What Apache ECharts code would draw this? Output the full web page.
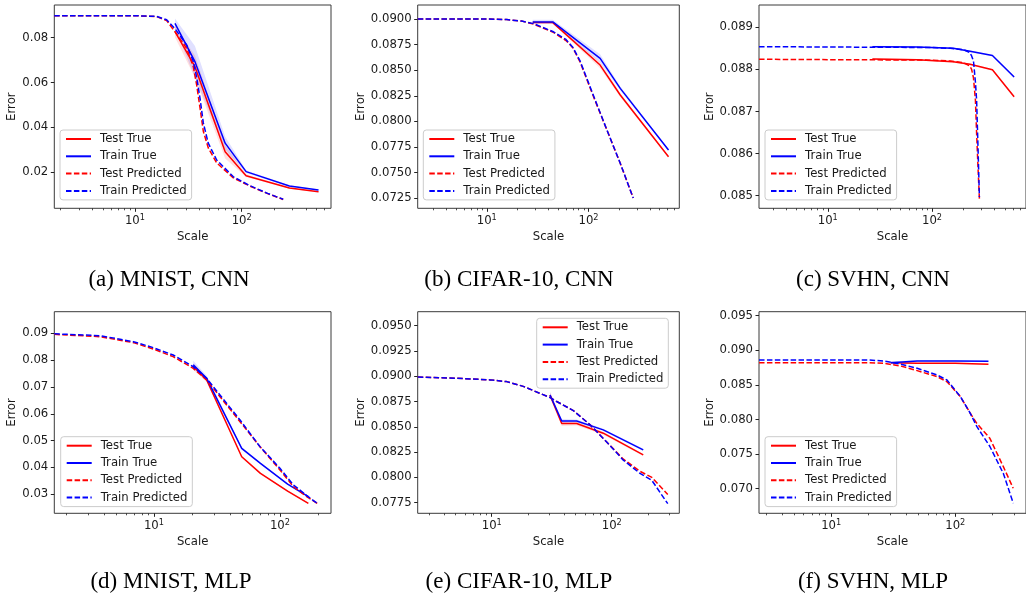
<!DOCTYPE html>
<html>
<head>
<meta charset="utf-8">
<script src="https://cdn.jsdelivr.net/npm/echarts@6/dist/echarts.min.js"></script>
<style>
  html, body { margin: 0; padding: 0; background: #fff; }
  #chart { width: 1026px; height: 602px; }
</style>
</head>
<body>
<div id="chart"></div>
<script>
// ---------- (a) MNIST, CNN ----------
const aPredScale  = [1.75, 10, 16, 19.8, 23.7, 30.5, 35.2, 37.8, 40.7, 43.7, 48.6, 58.3, 83.6, 120, 175, 245];
const aTestPred   = [0.0898, 0.0898, 0.0894, 0.0876, 0.0827, 0.0753, 0.0671, 0.0591, 0.0487, 0.0383, 0.0309, 0.0242, 0.0175, 0.0138, 0.0105, 0.0079];
const aTrainPred  = [0.0898, 0.0898, 0.0895, 0.0880, 0.0840, 0.0768, 0.0695, 0.0625, 0.0530, 0.0420, 0.0330, 0.0255, 0.0180, 0.0140, 0.0106, 0.0080];
const aTrueScale  = [23.7, 36.5, 70, 110, 280, 525];
const aTestTrue   = [0.0827, 0.0671, 0.0292, 0.0185, 0.0130, 0.0113];
const aTrainTrue  = [0.0864, 0.0693, 0.0330, 0.0203, 0.0139, 0.0121];
const aTestSpread = [0.0025, 0.0050, 0.0030, 0.0006, 0.0003, 0.0002];
const aTrainSpread= [0.0022, 0.0070, 0.0030, 0.0006, 0.0003, 0.0002];
const aYTicks     = [0.02, 0.04, 0.06, 0.08];

// ---------- (b) CIFAR-10, CNN ----------
const bPredScale  = [2.1, 10, 15.7, 22, 28.8, 45.2, 60, 70, 82.6, 112, 151, 205, 275];
const bTestPred   = [0.0900, 0.0900, 0.08995, 0.0898, 0.0895, 0.0887, 0.0879, 0.0872, 0.0858, 0.0824, 0.0792, 0.0759, 0.0725];
const bTrainPred  = [0.0900, 0.0900, 0.08995, 0.0898, 0.08955, 0.08875, 0.0880, 0.08725, 0.0859, 0.0825, 0.0792, 0.0759, 0.0725];
const bTrueScale  = [28.3, 44.6, 130, 205, 611];
const bTestTrue   = [0.08965, 0.08965, 0.0855, 0.08257, 0.07654];
const bTrainTrue  = [0.08972, 0.08972, 0.08616, 0.08322, 0.0772];
const bTestSpread = [0.0001, 0.0001, 0.0003, 0.0002, 0.0001];
const bTrainSpread= [0.0002, 0.0002, 0.0004, 0.0002, 0.0001];
const bYTicks     = [0.0725, 0.0750, 0.0775, 0.0800, 0.0825, 0.0850, 0.0875, 0.0900];

// ---------- (c) SVHN, CNN ----------
const cPredScale  = [2.19, 100, 150, 200, 230, 240, 250, 261, 268, 276, 285];
const cTestPred   = [0.08824, 0.08822, 0.0882, 0.08816, 0.08808, 0.08800, 0.0878, 0.08727, 0.08648, 0.0857, 0.08493];
const cTrainPred  = [0.08854, 0.08852, 0.0885, 0.08847, 0.0884, 0.08832, 0.0882, 0.0877, 0.08727, 0.0862, 0.08497];
const cTrueScale  = [26.8, 72, 160, 232, 380, 614];
const cTestTrue   = [0.08825, 0.08823, 0.08818, 0.08812, 0.08799, 0.08735];
const cTrainTrue  = [0.08854, 0.08853, 0.0885, 0.08843, 0.08833, 0.08782];
const cTestSpread = [0.00002, 0.00002, 0.00002, 0.00002, 0.00002, 0.00003];
const cTrainSpread= [0.00002, 0.00002, 0.00002, 0.00002, 0.00002, 0.00003];
const cYTicks     = [0.085, 0.086, 0.087, 0.088, 0.089];

// ---------- (d) MNIST, MLP ----------
const dPredScale  = [1.62, 3.73, 6.86, 9.88, 14.2, 20.5, 26.2, 33.4, 48.2, 69.4, 100, 128, 163, 201];
const dTestPred   = [0.0896, 0.08874, 0.08651, 0.08415, 0.08129, 0.07694, 0.07259, 0.06638, 0.05706, 0.04774, 0.03905, 0.03284, 0.02911, 0.02638];
const dTrainPred  = [0.0898, 0.08912, 0.08688, 0.08464, 0.08191, 0.07756, 0.07321, 0.0670, 0.05768, 0.04774, 0.03967, 0.03346, 0.02948, 0.02638];
const dTrueScale  = [20.5, 26.2, 49.7, 70, 115, 168];
const dTestTrue   = [0.0776, 0.0726, 0.0440, 0.0378, 0.0312, 0.0266];
const dTrainTrue  = [0.0783, 0.0732, 0.0471, 0.0415, 0.0338, 0.0291];
const dTestSpread = [0.0012, 0.0008, 0.0004, 0.0003, 0.0003, 0.0002];
const dTrainSpread= [0.0015, 0.0010, 0.0005, 0.0003, 0.0003, 0.0002];
const dYTicks     = [0.03, 0.04, 0.05, 0.06, 0.07, 0.08, 0.09];

// ---------- (e) CIFAR-10, MLP ----------
const ePredScale  = [2.42, 5.1, 9.7, 13.3, 18.3, 25.3, 30.6, 34.8, 47.9, 66, 90.8, 125, 172, 216, 293];
const eTestPred   = [0.08993, 0.0898, 0.08964, 0.08947, 0.0890, 0.0883, 0.0879, 0.0875, 0.0866, 0.0852, 0.0835, 0.0818, 0.0806, 0.0800, 0.0783];
const eTrainPred  = [0.08993, 0.0898, 0.08964, 0.08947, 0.0890, 0.0883, 0.0879, 0.0875, 0.0866, 0.0852, 0.0835, 0.0817, 0.0804, 0.0797, 0.0774];
const eTrueScale  = [30.6, 38.3, 51, 85, 183];
const eTestTrue   = [0.08815, 0.08533, 0.08533, 0.08437, 0.08222];
const eTrainTrue  = [0.08815, 0.08558, 0.08558, 0.0847, 0.08272];
const eTestSpread = [0.0003, 0.00025, 0.0002, 0.00015, 0.0001];
const eTrainSpread= [0.0003, 0.0002, 0.00015, 0.0001, 0.0001];
const eYTicks     = [0.0775, 0.0800, 0.0825, 0.0850, 0.0875, 0.0900, 0.0925, 0.0950];

// ---------- (f) SVHN, MLP ----------
const fPredScale  = [2.62, 20, 26.7, 36.3, 49.3, 71.3, 85.7, 110, 132, 149, 190, 244, 293];
const fTestPred   = [0.0882, 0.0882, 0.08812, 0.08773, 0.08706, 0.0862, 0.08546, 0.0833, 0.0809, 0.07945, 0.07728, 0.07318, 0.07006];
const fTrainPred  = [0.0886, 0.0886, 0.08845, 0.0880, 0.0874, 0.08643, 0.08571, 0.0833, 0.0809, 0.0790, 0.0761, 0.0722, 0.0679];
const fTrueScale  = [30.2, 49.3, 100, 185];
const fTestTrue   = [0.0882, 0.08812, 0.08812, 0.0880];
const fTrainTrue  = [0.0882, 0.08845, 0.08845, 0.0884];
const fTestSpread = [0.0002, 0.0001, 0.0001, 0.0001];
const fTrainSpread= [0.0002, 0.0001, 0.0001, 0.0001];
const fYTicks     = [0.070, 0.075, 0.080, 0.085, 0.090, 0.095];

// Shared
const SERIES_NAMES = ['Test True', 'Train True', 'Test Predicted', 'Train Predicted'];
const X_MAJOR = [10, 100];

const RED = '#ff0000';
const BLUE = '#0000ff';
const FONT = 'DejaVu Sans';
const INK = '#1a1a1a';
const FS = 11.7;

// Layout per subplot: grid box in px, axis ranges (x in log10 units), label decimals
const panels = [
  { cap: '(a) MNIST, CNN',    capX: 169, capY: 280, grid: [54.3, 5, 276.7, 203.3],  x: [0.244, 2.837], y: [0.00396, 0.09457], yTicks: aYTicks, dec: 2, nameGap: 33, legend: [60, 130],
    pred: [aPredScale, aTestPred, aTrainPred], truth: [aTrueScale, aTestTrue, aTrainTrue], spread: [aTestSpread, aTrainSpread] },
  { cap: '(b) CIFAR-10, CNN', capX: 519, capY: 280, grid: [417.7, 5, 261.6, 203.3], x: [0.3215, 2.892], y: [0.0715, 0.09137], yTicks: bYTicks, dec: 4, nameGap: 48, legend: [423.3, 130],
    pred: [bPredScale, bTestPred, bTrainPred], truth: [bTrueScale, bTestTrue, bTrainTrue], spread: [bTestSpread, bTrainSpread] },
  { cap: '(c) SVHN, CNN',     capX: 873, capY: 280, grid: [759, 5, 269, 203.3],     x: [0.34, 2.902], y: [0.0847, 0.08953], yTicks: cYTicks, dec: 3, nameGap: 40.3, legend: [765, 130],
    pred: [cPredScale, cTestPred, cTrainPred], truth: [cTrueScale, cTestTrue, cTrainTrue], spread: [cTestSpread, cTrainSpread] },
  { cap: '(d) MNIST, MLP',    capX: 171, capY: 582, grid: [54.3, 311.7, 276.7, 201.6],  x: [0.209, 2.405], y: [0.0229, 0.09805], yTicks: dYTicks, dec: 2, nameGap: 33, legend: [60.7, 436.7],
    pred: [dPredScale, dTestPred, dTrainPred], truth: [dTrueScale, dTestTrue, dTrainTrue], spread: [dTestSpread, dTrainSpread] },
  { cap: '(e) CIFAR-10, MLP', capX: 519, capY: 582, grid: [417.7, 311.7, 261.6, 201.6], x: [0.383, 2.563], y: [0.07645, 0.09638], yTicks: eYTicks, dec: 4, nameGap: 48, legend: [536.7, 318.3],
    pred: [ePredScale, eTestPred, eTrainPred], truth: [eTrueScale, eTestTrue, eTrainTrue], spread: [eTestSpread, eTrainSpread] },
  { cap: '(f) SVHN, MLP',     capX: 873, capY: 582, grid: [759, 311.7, 269, 201.6],     x: [0.418, 2.570], y: [0.06644, 0.09558], yTicks: fYTicks, dec: 3, nameGap: 40.3, legend: [765, 436.7],
    pred: [fPredScale, fTestPred, fTrainPred], truth: [fTrueScale, fTestTrue, fTrainTrue], spread: [fTestSpread, fTrainSpread] }
];

// Minor log ticks (2..9 per decade) inside [lo, hi], in log10 units
function minorTicks(lo, hi) {
  const out = [];
  for (let e = Math.floor(lo); e <= Math.ceil(hi); e++) {
    for (let m = 2; m <= 9; m++) {
      const v = e + Math.log10(m);
      if (v >= lo && v <= hi) out.push(v);
    }
  }
  return out;
}

function toPoints(xs, ys) {
  return xs.map((x, i) => [Math.log10(x), ys[i]]);
}

function lineSeries(pi, name, xs, ys, color, dashed, z) {
  return {
    type: 'line', name: name, xAxisIndex: pi * 2, yAxisIndex: pi,
    data: toPoints(xs, ys),
    symbol: 'none', showSymbol: false, silent: true, z: z,
    itemStyle: { color: color },
    lineStyle: { color: color, width: 1.5, type: dashed ? [5.5, 2.4] : 'solid' }
  };
}

// Shaded spread around a curve, drawn as one polygon through the axis scales
function bandSeries(pi, xs, ys, spread, fill) {
  const pts = xs.map((x, i) => [Math.log10(x), ys[i] - spread[i], ys[i] + spread[i]]);
  return {
    type: 'custom', xAxisIndex: pi * 2, yAxisIndex: pi, silent: true, z: 1,
    data: pts, encode: { x: 0, y: [1, 2] },
    renderItem: (params, api) => {
      if (params.dataIndex !== 0) return null;
      const lower = pts.map(p => api.coord([p[0], p[1]]));
      const upper = pts.slice().reverse().map(p => api.coord([p[0], p[2]]));
      return { type: 'polygon', shape: { points: lower.concat(upper) }, style: { fill: fill } };
    }
  };
}

const grid = [], xAxis = [], yAxis = [], series = [], legend = [], graphic = [];

panels.forEach((p, i) => {
  grid.push({ left: p.grid[0], top: p.grid[1], width: p.grid[2], height: p.grid[3],
              show: true, borderColor: '#3a3a3a', borderWidth: 1, backgroundColor: '#fff' });

  const majors = X_MAJOR.map(v => Math.log10(v));
  xAxis.push({
    type: 'value', gridIndex: i, min: p.x[0], max: p.x[1], position: 'bottom',
    axisLine: { show: false, onZero: false }, splitLine: { show: false },
    axisTick: { show: true, customValues: majors, length: 3.5, lineStyle: { color: '#222', width: 1 } },
    axisLabel: {
      customValues: majors, margin: 5.5,
      formatter: v => '{b|10}{s|' + Math.round(v) + '}',
      rich: {
        b: { fontSize: FS, fontFamily: FONT, color: INK, lineHeight: 13, padding: [2, 0, 0, 0] },
        s: { fontSize: 8.2, fontFamily: FONT, color: INK, lineHeight: 9, verticalAlign: 'top' }
      }
    },
    name: 'Scale', nameLocation: 'middle', nameGap: 22.5,
    nameTextStyle: { fontSize: FS, fontFamily: FONT, color: INK }
  });
  xAxis.push({
    type: 'value', gridIndex: i, min: p.x[0], max: p.x[1], position: 'bottom',
    axisLine: { show: false, onZero: false }, splitLine: { show: false },
    axisTick: { show: true, customValues: minorTicks(p.x[0], p.x[1]), length: 2, lineStyle: { color: '#222', width: 0.8 } },
    axisLabel: { show: false }
  });

  yAxis.push({
    type: 'value', gridIndex: i, min: p.y[0], max: p.y[1],
    axisLine: { show: false, onZero: false }, splitLine: { show: false },
    axisTick: { show: true, customValues: p.yTicks, length: 3.5, lineStyle: { color: '#222', width: 1 } },
    axisLabel: { customValues: p.yTicks, margin: 6, fontSize: FS, fontFamily: FONT, color: INK,
                 formatter: v => v.toFixed(p.dec) },
    name: 'Error', nameLocation: 'middle', nameGap: p.nameGap,
    nameTextStyle: { fontSize: FS, fontFamily: FONT, color: INK }
  });

  series.push(bandSeries(i, p.truth[0], p.truth[1], p.spread[0], 'rgba(255,0,0,0.12)'));
  series.push(bandSeries(i, p.truth[0], p.truth[2], p.spread[1], 'rgba(0,0,255,0.12)'));
  series.push(lineSeries(i, SERIES_NAMES[0], p.truth[0], p.truth[1], RED, false, 3));
  series.push(lineSeries(i, SERIES_NAMES[1], p.truth[0], p.truth[2], BLUE, false, 4));
  series.push(lineSeries(i, SERIES_NAMES[2], p.pred[0], p.pred[1], RED, true, 5));
  series.push(lineSeries(i, SERIES_NAMES[3], p.pred[0], p.pred[2], BLUE, true, 6));

  legend.push({
    orient: 'vertical', left: p.legend[0], top: p.legend[1], data: SERIES_NAMES,
    itemWidth: 25, itemHeight: 14, itemGap: 5.3, padding: [3, 5, 3, 5],
    backgroundColor: 'rgba(255,255,255,0.8)', borderColor: '#cccccc', borderWidth: 1, borderRadius: 3,
    selectedMode: false, z: 10,
    itemStyle: { color: 'rgba(0,0,0,0)', borderWidth: 0, opacity: 0 },
    formatter: '{t|{name}}',
    textStyle: { fontSize: FS, fontFamily: FONT, color: INK,
                 rich: { t: { fontSize: FS, fontFamily: FONT, color: INK, lineHeight: 14, padding: [0, 0, 0, 4] } } }
  });

  graphic.push({
    type: 'text', x: p.capX, y: p.capY, silent: true,
    style: { text: p.cap, fontSize: 23, fontFamily: 'Liberation Serif', fill: '#000',
             align: 'center', verticalAlign: 'middle', textAlign: 'center', textVerticalAlign: 'middle' }
  });
});

const chart = echarts.init(document.getElementById('chart'), null, { renderer: 'canvas' });
chart.setOption({
  animation: false,
  backgroundColor: '#fff',
  textStyle: { fontFamily: FONT },
  grid: grid, xAxis: xAxis, yAxis: yAxis, series: series, legend: legend, graphic: graphic
});
</script>
</body>
</html>
